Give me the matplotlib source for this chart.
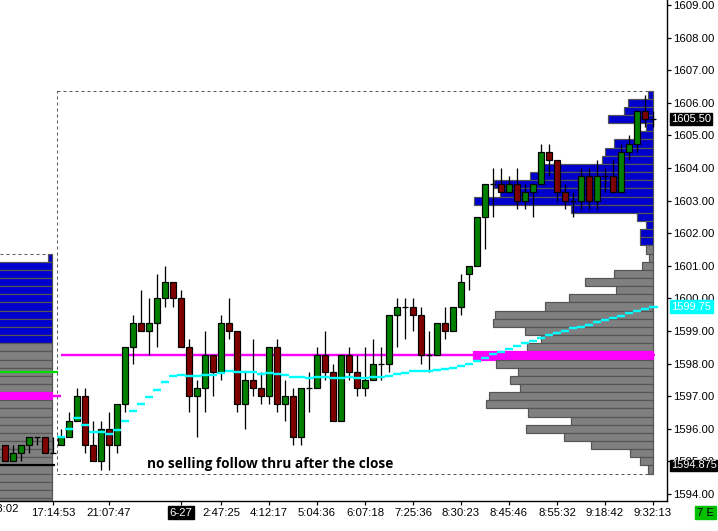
import matplotlib
matplotlib.use("Agg")
import matplotlib.pyplot as plt
from matplotlib.patches import Rectangle
from matplotlib.transforms import blended_transform_factory

# ---------------------------------------------------------------------
# DATA  (ES futures, 8 px per bar, prices in index points)
# ---------------------------------------------------------------------
# session bars, index 0..74
opens = [1595.5, 1595.75, 1596.25, 1597.0, 1595.5, 1595.0, 1596.0, 1595.5, 1596.75, 1598.5,
         1599.25, 1599.0, 1599.25, 1600.0, 1600.5, 1600.0, 1598.5, 1597.0, 1597.25, 1598.25,
         1597.75, 1599.25, 1599.0, 1596.75, 1597.5, 1597.25, 1597.0, 1598.5, 1596.75, 1597.0,
         1595.75, 1597.25, 1597.25, 1598.25, 1597.75, 1596.25, 1598.25, 1597.75, 1597.25, 1597.5,
         1598.0, 1598.0, 1599.5, 1599.75, 1599.75, 1599.5, 1598.25, 1598.25, 1599.25, 1599.0,
         1599.75, 1600.75, 1601.0, 1602.5, 1603.5, 1603.5, 1603.25, 1603.5, 1603.0, 1603.25,
         1603.5, 1604.5, 1604.25, 1603.25, 1603.0, 1603.0, 1603.75, 1603.0, 1603.75, 1603.75,
         1603.25, 1604.5, 1604.75, 1605.75, 1605.5]
highs = [1596.0, 1596.5, 1597.25, 1597.25, 1596.25, 1596.25, 1596.5, 1596.75, 1598.5, 1599.5,
         1600.25, 1600.0, 1600.75, 1601.0, 1600.5, 1600.25, 1598.75, 1597.5, 1599.0, 1598.25,
         1599.5, 1600.0, 1599.0, 1597.75, 1598.75, 1597.75, 1598.5, 1598.75, 1597.5, 1597.25,
         1597.25, 1597.75, 1598.5, 1599.0, 1598.0, 1598.25, 1598.5, 1598.25, 1598.5, 1598.75,
         1598.5, 1599.5, 1600.0, 1600.0, 1600.0, 1599.75, 1599.0, 1599.25, 1599.75, 1599.75,
         1600.75, 1601.0, 1602.5, 1603.5, 1604.0, 1604.0, 1603.75, 1604.0, 1603.5, 1603.5,
         1604.75, 1604.75, 1604.25, 1603.5, 1603.25, 1604.0, 1604.0, 1604.25, 1604.0, 1604.25,
         1604.75, 1605.0, 1605.75, 1606.25, 1605.75]
lows = [1595.5, 1595.75, 1596.25, 1595.25, 1595.0, 1594.75, 1594.75, 1595.25, 1596.5, 1598.0,
        1599.0, 1598.25, 1598.5, 1599.75, 1599.75, 1598.5, 1596.5, 1595.75, 1596.5, 1597.0,
        1597.5, 1598.75, 1596.5, 1596.0, 1597.0, 1596.75, 1596.75, 1596.5, 1596.25, 1595.5,
        1595.5, 1596.5, 1597.25, 1597.5, 1596.25, 1596.25, 1597.5, 1597.0, 1597.0, 1597.5,
        1597.5, 1597.75, 1598.5, 1598.75, 1599.0, 1598.0, 1597.75, 1598.25, 1598.75, 1599.0,
        1599.5, 1600.25, 1601.0, 1601.5, 1602.5, 1603.25, 1603.25, 1602.75, 1602.75, 1602.5,
        1603.5, 1603.75, 1603.0, 1602.75, 1602.5, 1602.75, 1602.75, 1602.75, 1603.25, 1603.25,
        1603.25, 1604.25, 1604.5, 1605.25, 1605.25]
closes = [1595.75, 1596.25, 1597.0, 1595.5, 1595.0, 1596.0, 1595.5, 1596.75, 1598.5, 1599.25,
          1599.0, 1599.25, 1600.0, 1600.5, 1600.0, 1598.5, 1597.0, 1597.25, 1598.25, 1597.75,
          1599.25, 1599.0, 1596.75, 1597.5, 1597.25, 1597.0, 1598.5, 1596.75, 1597.0, 1595.75,
          1597.25, 1597.25, 1598.25, 1597.75, 1596.25, 1598.25, 1597.75, 1597.25, 1597.5, 1598.0,
          1598.0, 1599.5, 1599.75, 1599.75, 1599.5, 1598.25, 1598.25, 1599.25, 1599.0, 1599.75,
          1600.5, 1601.0, 1602.5, 1603.5, 1603.5, 1603.25, 1603.5, 1603.0, 1603.25, 1603.5,
          1604.5, 1604.25, 1603.25, 1603.0, 1603.0, 1603.75, 1603.0, 1603.75, 1603.75, 1603.25,
          1604.5, 1604.75, 1605.75, 1605.5, 1605.5]

# last bars of the previous session, index -7..-1
prev_x = [-7, -6, -5, -4, -3, -2, -1]
prev_opens = [1595.5, 1595.0, 1595.25, 1595.5, 1595.75, 1595.75, 1595.25]
prev_highs = [1595.5, 1595.5, 1595.5, 1595.75, 1595.75, 1595.75, 1595.75]
prev_lows = [1595.0, 1595.0, 1595.0, 1595.25, 1595.5, 1595.25, 1595.25]
prev_closes = [1595.0, 1595.25, 1595.5, 1595.75, 1595.75, 1595.25, 1595.25]

# session vwap, one value per bar
vwap = [1595.75, 1596.00, 1596.34, 1596.12, 1595.90, 1595.90, 1595.85, 1595.97, 1596.25, 1596.55,
        1596.77, 1596.98, 1597.20, 1597.44, 1597.62, 1597.66, 1597.63, 1597.63, 1597.66, 1597.66,
        1597.72, 1597.78, 1597.75, 1597.73, 1597.73, 1597.69, 1597.72, 1597.69, 1597.66, 1597.60,
        1597.60, 1597.56, 1597.60, 1597.60, 1597.57, 1597.57, 1597.59, 1597.56, 1597.56, 1597.60,
        1597.60, 1597.63, 1597.69, 1597.72, 1597.78, 1597.78, 1597.78, 1597.81, 1597.84, 1597.87,
        1597.94, 1598.00, 1598.09, 1598.18, 1598.29, 1598.37, 1598.46, 1598.54, 1598.62, 1598.68,
        1598.77, 1598.87, 1598.95, 1599.01, 1599.08, 1599.13, 1599.19, 1599.28, 1599.34, 1599.40,
        1599.47, 1599.54, 1599.60, 1599.68, 1599.74]

# current session volume profile (volume in px of bar length)
prof_prices = [1606.25, 1606.0, 1605.75, 1605.5, 1605.25, 1605.0, 1604.75, 1604.5, 1604.25, 1604.0,
               1603.75, 1603.5, 1603.25, 1603.0, 1602.75, 1602.5, 1602.25, 1602.0, 1601.75, 1601.5,
               1601.25, 1601.0, 1600.75, 1600.5, 1600.25, 1600.0, 1599.75, 1599.5, 1599.25, 1599.0,
               1598.75, 1598.5, 1598.25, 1598.0, 1597.75, 1597.5, 1597.25, 1597.0, 1596.75, 1596.5,
               1596.25, 1596.0, 1595.75, 1595.5, 1595.25, 1595.0, 1594.75]
prof_vol = [5, 25, 29, 45, 7, 13, 39, 48, 51, 109,
            123, 159, 153, 179, 82, 16, 7, 13, 13, 7,
            4, 11, 39, 68, 37, 84, 108, 158, 160, 128,
            112, 126, 180, 157, 135, 143, 133, 164, 167, 125,
            82, 127, 89, 62, 23, 13, 5]
prof_blue_above = 1601.75   # rows at or above this price are blue
poc = 1598.25

# previous session profile (extends past the left edge)
prev_prof_prices = [1601.25, 1601.0, 1600.75, 1600.5, 1600.25, 1600.0, 1599.75, 1599.5, 1599.25, 1599.0,
                    1598.75, 1598.5, 1598.25, 1598.0, 1597.75, 1597.5, 1597.25, 1597.0, 1596.75, 1596.5,
                    1596.25, 1596.0, 1595.75, 1595.5, 1595.25, 1595.0, 1594.75, 1594.5, 1594.25, 1594.0,
                    1593.75]
prev_prof_vol = [4, 80, 85, 90, 88, 92, 95, 90, 86, 84,
                 82, 90, 95, 98, 100, 96, 98, 110, 104, 98,
                 94, 90, 92, 88, 84, 80, 78, 76, 74, 72, 70]
prev_blue_above = 1598.75
prev_poc = 1597.0
prev_green_level = 1597.75
prev_black_level = 1594.875

range_high, range_low = 1606.25, 1594.75
prev_range_high = 1601.25

tick_pos = [-1, 6, 15, 20, 26, 32, 38, 44, 50, 56, 62, 68, 74]
tick_lab = ["17:14:53", "21:07:47", "6-27", "2:47:25", "4:12:17", "5:04:36", "6:07:18",
            "7:25:36", "8:30:23", "8:45:46", "8:55:32", "9:18:42", "9:32:13"]
price_ticks = [1594, 1595, 1596, 1597, 1598, 1599, 1600, 1601, 1602, 1603, 1604, 1605,
               1606, 1607, 1608, 1609]

last_price = 1605.5
vwap_last = 1599.75

# ---------------------------------------------------------------------
plt.rcParams["font.family"] = ["Liberation Sans", "DejaVu Sans"]
plt.rcParams["font.size"] = 8.2

BLUE = "#0000cc"
GRAY = "#808080"
EDGE = "#555555"
MAG = "#ff00ff"
CYAN = "#00ffff"
GREEN = "#008000"
RED = "#800000"
PX = 0.72  # one pixel in points

fig = plt.figure(figsize=(7.18, 5.31), dpi=100)
ax = fig.add_axes([0, 30 / 531, 667 / 718, 501 / 531])
ax.set_xlim(-7.625, 75.75)
ax.set_ylim(1593.785, 1609.153)


def draw_profile(ax, prices, vols, right, blue_above, poc_price, zorder=2):
    for p, v in zip(prices, vols):
        w = v / 8.0
        if p == poc_price:
            col = MAG
        elif p >= blue_above:
            col = BLUE
        else:
            col = GRAY
        ax.add_patch(Rectangle((right - w, p - 0.125), w, 0.25, facecolor=col,
                               edgecolor=EDGE if col != MAG else MAG, linewidth=1.2 * PX,
                               zorder=zorder))


def draw_candles(ax, xs, o, h, l, c):
    for x, op, hi, lo, cl in zip(xs, o, h, l, c):
        ax.vlines(x, lo, hi, color="black", linewidth=1.3 * PX, zorder=5)
        if op == cl:
            ax.hlines(cl, x - 0.4, x + 0.4, color="black", linewidth=1.3 * PX, zorder=6)
        else:
            col = GREEN if cl > op else RED
            ax.add_patch(Rectangle((x - 0.36, min(op, cl)), 0.72, abs(cl - op),
                                   facecolor=col, edgecolor="black", linewidth=1.2 * PX,
                                   zorder=6))


# previous session profile + levels
prev_right = -1.09
draw_profile(ax, prev_prof_prices, prev_prof_vol, prev_right, prev_blue_above, prev_poc)
ax.hlines(prev_poc, -7.625, 0, color=MAG, linewidth=2.5 * PX, zorder=3)
ax.hlines(prev_green_level, -7.625, -0.4, color="#00e000", linewidth=2.2 * PX, zorder=3)
ax.hlines(prev_black_level, -7.625, -0.75, color="black", linewidth=2.2 * PX, zorder=7)
ax.hlines(prev_range_high + 0.125, -7.625, prev_right - 0.5, color="#555555",
          linewidth=1.0 * PX, linestyle=(0, (3, 3)), zorder=3)

# current session range box
xs = list(range(len(opens)))
ax.plot([-0.5, 74, 74, -0.5, -0.5],
        [range_high + 0.125, range_high + 0.125, range_low - 0.125, range_low - 0.125,
         range_high + 0.125],
        color="#555555", linewidth=1.0 * PX, linestyle=(0, (3, 3)), zorder=1)

# current profile
draw_profile(ax, prof_prices, prof_vol, 73.96, prof_blue_above, poc)

# poc line
ax.hlines(poc, 0, 74.2, color=MAG, linewidth=2.4 * PX, zorder=3)

draw_candles(ax, prev_x, prev_opens, prev_highs, prev_lows, prev_closes)
draw_candles(ax, xs, opens, highs, lows, closes)

# vwap steps
for i, v in enumerate(vwap):
    x1 = i + 0.5 if i < len(vwap) - 1 else i + 0.6
    ax.hlines(v, i - 0.45, x1, color=CYAN, linewidth=2.4 * PX, zorder=8)

ax.text(10.75, 1594.93, "no selling follow thru after the close", fontsize=9.8,
        fontweight="bold", family=["Open Sans", "DejaVu Sans"], ha="left", va="center",
        zorder=9)

# axes styling
for s in ["top", "left"]:
    ax.spines[s].set_visible(False)
ax.spines["bottom"].set_linewidth(1.4 * PX)
ax.spines["right"].set_linewidth(1.4 * PX)
ax.yaxis.tick_right()
ax.set_yticks(price_ticks)
ax.set_yticklabels(["%.2f" % p for p in price_ticks])
ax.tick_params(axis="y", length=4 * PX, width=1.2 * PX, pad=1.5)
ax.set_xticks(tick_pos)
ax.set_xticklabels(tick_lab)
ax.tick_params(axis="x", length=4 * PX, width=1.2 * PX, pad=2)
for lab in ax.get_xticklabels():
    if lab.get_text() == "6-27":
        lab.set_color("white")
        lab.set_bbox(dict(facecolor="black", edgecolor="black", pad=1.2))

# cut-off label at far left
ax.text(-8.05, -0.006, "16:38:02", transform=blended_transform_factory(ax.transData, ax.transAxes),
        ha="center", va="top", clip_on=False, fontsize=8.2)

# boxed price labels on the right
tr = blended_transform_factory(ax.transAxes, ax.transData)
ax.text(1.0065, last_price, "1605.50", transform=tr, color="white", ha="left", va="center",
        fontsize=8.0, bbox=dict(facecolor="black", edgecolor="black", pad=0.8),
        clip_on=False, zorder=10)
ax.text(1.0065, vwap_last, "1599.75", transform=tr, color="white", ha="left", va="center",
        fontsize=8.0, bbox=dict(facecolor=CYAN, edgecolor=CYAN, pad=1.3), clip_on=False,
        zorder=10)
ax.text(1.0055, prev_black_level, "1594.875", transform=tr, color="white", ha="left",
        va="center", fontsize=7.9, bbox=dict(facecolor="black", edgecolor="black", pad=0.6),
        clip_on=False, zorder=10)

fig.text(705.5 / 718, 1 - 512.5 / 531, "7 E", ha="center", va="center", fontsize=8.2,
         bbox=dict(facecolor="#00c000", edgecolor="#00c000", pad=1.4))

fig.savefig("out.png", dpi=100)
plt.close(fig)
